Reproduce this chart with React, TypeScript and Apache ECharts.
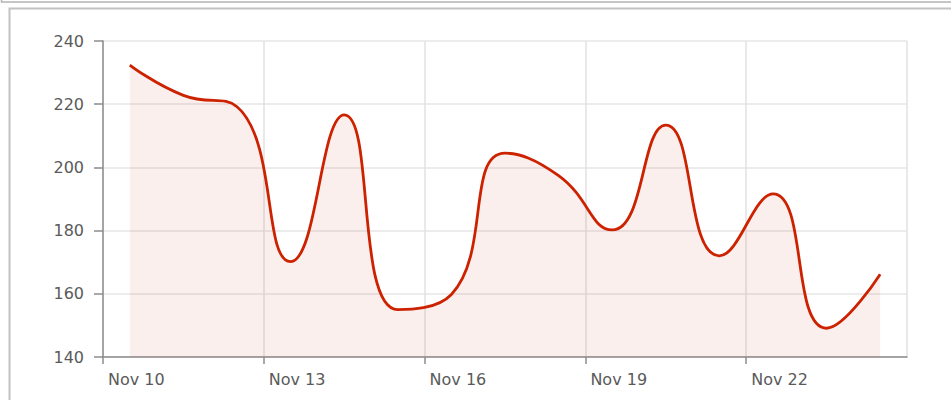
import React, { useEffect, useRef } from "react";
import * as echarts from "echarts";

// Days since Nov 10 (data points sit mid-day)
const dayOffsets = [0.5, 1.5, 2.5, 3.5, 4.5, 5.5, 6.5, 7.5, 8.5, 9.5, 10.5, 11.5, 12.5, 13.5, 14.5];
const values = [232.4, 222.8, 219.2, 170.2, 216.6, 155, 159.8, 204.5, 197.4, 180.2, 213.4, 172, 191.6, 149.1, 166.2];
const tickLabels = ["Nov 10", "Nov 13", "Nov 16", "Nov 19", "Nov 22", ""];
const yTicks = [140, 160, 180, 200, 220, 240];

const FONT = "'DejaVu Sans', Verdana, sans-serif";

export default function App() {
  const ref = useRef<HTMLDivElement>(null);
  useEffect(() => {
    if (!ref.current) return;
    const chart = echarts.init(ref.current, undefined, { renderer: "svg" });
    chart.setOption({
      animation: false,
      backgroundColor: "#ffffff",
      grid: { left: 103, right: 44, top: 41, bottom: 43, containLabel: false },
      xAxis: {
        type: "value",
        min: 0,
        max: 15,
        interval: 3,
        axisLine: { show: true, lineStyle: { color: "#8c8c8c", width: 1.5 } },
        axisTick: { show: true, length: 7, lineStyle: { color: "#8c8c8c", width: 1.5 } },
        splitLine: { show: true, lineStyle: { color: "#e2e2e2", width: 1.5 } },
        axisLabel: {
          show: true,
          showMaxLabel: false,
          align: "left",
          margin: 14,
          padding: [0, 0, 0, 5],
          color: "#5a5a5a",
          fontSize: 16,
          fontFamily: FONT,
          formatter: (v: number) => tickLabels[Math.round(v / 3)] ?? "",
        },
      },
      yAxis: {
        type: "value",
        min: yTicks[0],
        max: yTicks[yTicks.length - 1],
        interval: 20,
        axisLine: { show: true, lineStyle: { color: "#8c8c8c", width: 1.5 } },
        axisTick: { show: true, length: 9, lineStyle: { color: "#8c8c8c", width: 1.5 } },
        splitLine: { show: true, lineStyle: { color: "#e6e6e6", width: 1.5 } },
        axisLabel: {
          margin: 19,
          color: "#5a5a5a",
          fontSize: 16,
          fontFamily: FONT,
        },
      },
      series: [
        {
          type: "line",
          data: dayOffsets.map((d, i) => [d, values[i]]),
          smooth: 0.5,
          symbol: "none",
          lineStyle: { color: "#cc2200", width: 2.8 },
          areaStyle: { color: "rgba(204,34,0,0.1)", origin: "start" },
        },
      ],
      graphic: [
        {
          type: "rect",
          silent: true,
          shape: { x: 1.5, y: -20, width: 1000, height: 22 },
          style: { fill: "none", stroke: "#b4b4b4", lineWidth: 1.5 },
        },
        {
          type: "rect",
          silent: true,
          shape: { x: 9.5, y: 8.5, width: 1000, height: 1000 },
          style: { fill: "none", stroke: "#c2c2c2", lineWidth: 2 },
        },
      ],
    });
    return () => chart.dispose();
  }, []);
  return (
    <div
      ref={ref}
      style={{ position: "fixed", left: 0, top: 0, width: 951, height: 400 }}
    />
  );
}
